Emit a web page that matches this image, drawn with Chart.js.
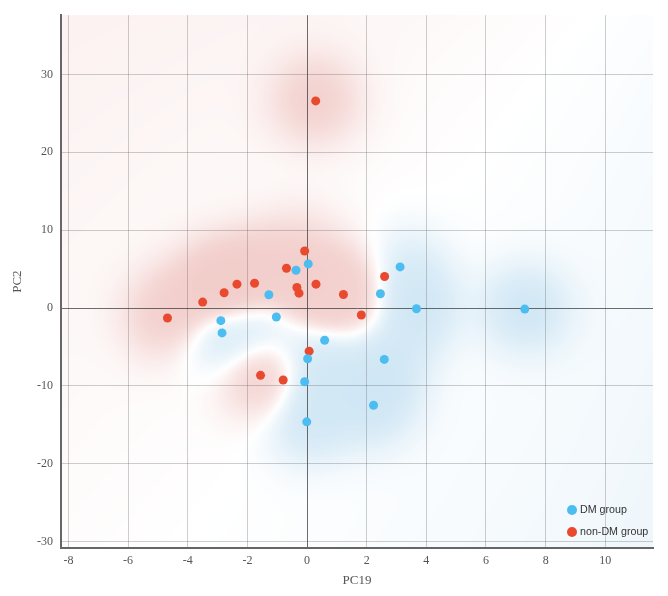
<!DOCTYPE html>
<html>
<head>
<meta charset="utf-8">
<title>PCA scores</title>
<script src="https://cdn.jsdelivr.net/npm/chart.js@4.4.1/dist/chart.umd.min.js"></script>
<style>
  html, body { margin: 0; padding: 0; background: #fff; }
</style>
</head>
<body>
<canvas id="pca" width="668" height="596"></canvas>
<script>
// values
var xTicks = [-8, -6, -4, -2, 0, 2, 4, 6, 8, 10];
var yTicks = [-30, -20, -10, 0, 10, 20, 30];

var dmX = [0.04, -0.37, -1.28, -1.03, -2.89, -2.85, 0.59, 0.02, -0.08, -0.01, 2.23, 2.59, 2.46, 3.12, 3.67, 7.30];
var dmY = [5.67, 4.85, 1.71, -1.15, -1.61, -3.19, -4.13, -6.51, -9.45, -14.6, -12.47, -6.59, 1.84, 5.29, -0.08, -0.13];

var nonX = [-0.08, -0.69, -0.34, -0.27, 0.30, -1.76, -2.35, -2.78, -3.50, -4.68, 1.22, 1.82, 2.60, 0.07, -1.56, -0.80, 0.29];
var nonY = [7.33, 5.11, 2.64, 1.92, 3.07, 3.19, 3.07, 1.97, 0.77, -1.28, 1.75, -0.89, 4.05, -5.53, -8.63, -9.23, 26.6];

var blue = "#4cbdf0";
var red = "#e9492f";

function toPoints(xs, ys){
    var out = [];
    for (var i = 0; i < xs.length; i++) out.push({x: xs[i], y: ys[i]});
    return out;
}

// shaded background: red where non-DM points are, blue where DM points are
var heatmap = {
    id: "heatmap",
    beforeDraw: function(chart){
        var ctx = chart.ctx, a = chart.chartArea;
        var sx = chart.scales.x, sy = chart.scales.y;
        var step = 2;
        var w = Math.ceil(a.width / step), h = Math.ceil(a.height / step);
        var rp = [], bp = [], i;
        for (i = 0; i < nonX.length; i++) rp.push([sx.getPixelForValue(nonX[i]), sy.getPixelForValue(nonY[i])]);
        for (i = 0; i < dmX.length; i++) bp.push([sx.getPixelForValue(dmX[i]), sy.getPixelForValue(dmY[i])]);
        var off = document.createElement("canvas");
        off.width = w; off.height = h;
        var octx = off.getContext("2d");
        var img = octx.createImageData(w, h);
        var s1 = 2 * 30 * 30, s2 = 2 * 170 * 170;
        for (var j = 0; j < h; j++){
            for (var k = 0; k < w; k++){
                var px = a.left + (k + 0.5) * step, py = a.top + (j + 0.5) * step;
                var r1 = 0, b1 = 0, r2 = 0, b2 = 0, d, q;
                for (q = 0; q < rp.length; q++){
                    d = (px - rp[q][0]) * (px - rp[q][0]) + (py - rp[q][1]) * (py - rp[q][1]);
                    r1 += Math.exp(-d / s1); r2 += Math.exp(-d / s2);
                }
                for (q = 0; q < bp.length; q++){
                    d = (px - bp[q][0]) * (px - bp[q][0]) + (py - bp[q][1]) * (py - bp[q][1]);
                    b1 += Math.exp(-d / s1); b2 += Math.exp(-d / s2);
                }
                var broad = (r2 - b2) / (r2 + b2 + 1e-9);
                var f = 0.36 * Math.tanh(1.2 * (r1 - b1)) + 0.33 * broad;
                var t = Math.min(1, Math.abs(f));
                var c = f > 0 ? [222, 130, 122] : [125, 188, 226];
                var n = (j * w + k) * 4;
                img.data[n] = 255 + (c[0] - 255) * t;
                img.data[n + 1] = 255 + (c[1] - 255) * t;
                img.data[n + 2] = 255 + (c[2] - 255) * t;
                img.data[n + 3] = 255;
            }
        }
        octx.putImageData(img, 0, 0);
        ctx.save();
        ctx.imageSmoothingEnabled = true;
        ctx.drawImage(off, a.left, a.top, a.width, a.height);
        ctx.restore();
    }
};

// legend in the lower right corner of the plot
var cornerLegend = {
    id: "cornerLegend",
    afterDraw: function(chart){
        var ctx = chart.ctx, a = chart.chartArea;
        ctx.save();
        ctx.font = "10.7px 'Liberation Sans', Arial, sans-serif";
        ctx.textBaseline = "middle";
        chart.data.datasets.forEach(function(ds, i){
            var cx = a.right - 81, cy = a.bottom - 38 + i * 22;
            ctx.beginPath();
            ctx.arc(cx, cy, 5, 0, Math.PI * 2);
            ctx.fillStyle = ds.backgroundColor;
            ctx.fill();
            ctx.fillStyle = "#333";
            ctx.fillText(ds.label, cx + 8, cy);
        });
        ctx.restore();
    }
};

function gridColor(c){
    return c.tick && c.tick.value === 0 ? "rgba(60,60,60,0.75)" : "rgba(80,80,80,0.28)";
}

new Chart(document.getElementById("pca"), {
    type: "scatter",
    data: {
        datasets: [
            { label: "DM group", data: toPoints(dmX, dmY), backgroundColor: blue, borderColor: blue, pointRadius: 4.5, borderWidth: 0 },
            { label: "non-DM group", data: toPoints(nonX, nonY), backgroundColor: red, borderColor: red, pointRadius: 4.5, borderWidth: 0 }
        ]
    },
    options: {
        responsive: false,
        animation: false,
        layout: { padding: { top: 13, right: 15, left: 0, bottom: 0 } },
        plugins: {
            legend: { display: false },
            tooltip: { enabled: false }
        },
        scales: {
            x: {
                type: "linear",
                min: -8.25,
                max: 11.6,
                afterBuildTicks: function(s){ s.ticks = xTicks.map(function(v){ return {value: v}; }); },
                afterFit: function(s){ s.height = 48; },
                grid: { color: gridColor, lineWidth: 1, drawTicks: false },
                border: { display: true, color: "#666", width: 2 },
                ticks: { padding: 6, color: "#555", font: { family: "'Liberation Serif', serif", size: 12 } },
                title: { display: true, text: "PC19", color: "#555", font: { family: "'Liberation Serif', serif", size: 13 }, padding: { top: 4, bottom: 8 } }
            },
            y: {
                type: "linear",
                min: -30.8,
                max: 37.6,
                afterBuildTicks: function(s){ s.ticks = yTicks.map(function(v){ return {value: v}; }); },
                afterFit: function(s){ s.width = 61; },
                grid: { color: gridColor, lineWidth: 1, drawTicks: false },
                border: { display: true, color: "#666", width: 2 },
                ticks: { padding: 8, color: "#555", font: { family: "'Liberation Serif', serif", size: 12 } },
                title: { display: true, text: "PC2", color: "#555", font: { family: "'Liberation Serif', serif", size: 13 }, padding: { top: 10, bottom: 4 } }
            }
        }
    },
    plugins: [heatmap, cornerLegend]
});
</script>
</body>
</html>
